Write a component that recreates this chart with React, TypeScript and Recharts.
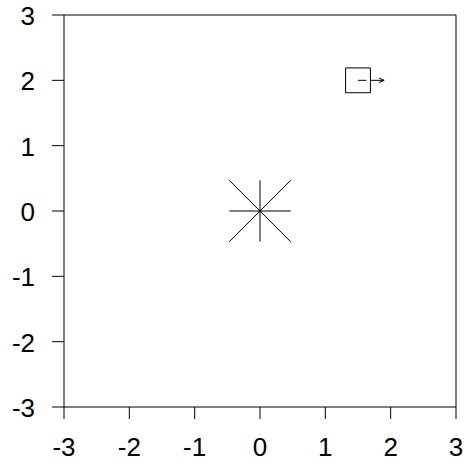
import { ScatterChart, Scatter, XAxis, YAxis, ReferenceArea, ReferenceLine } from 'recharts';

const axisTicks = [-3, -2, -1, 0, 1, 2, 3];
const axisDomain = [-3, 3];

// star glyph at the origin: four spokes through the centre
const starCenter = { x: 0, y: 0 };
const starSpokes = [
  [-0.47, 0, 0.47, 0],
  [0, -0.47, 0, 0.47],
  [-0.47, -0.47, 0.47, 0.47],
  [-0.47, 0.47, 0.47, -0.47],
];

// square glyph with a small arrow to the right
const squareCenter = { x: 1.5, y: 2 };
const squareHalf = 0.19;
const innerDash = [1.5, 1.63];
const arrowLine = [1.69, 1.9];
const arrowHead = [
  [1.82, 2.035],
  [1.82, 1.965],
];

const points = [starCenter, squareCenter];

const FONT = '"Liberation Sans", Arial, sans-serif';

const XTick = ({ x, y, payload }: any) => (
  <text x={x} y={y + 19} textAnchor="middle" fontFamily={FONT} fontSize={26} fill="#000">
    {payload.value}
  </text>
);

const YTick = ({ x, y, payload }: any) => (
  <text x={x} y={y + 10} textAnchor="end" fontFamily={FONT} fontSize={26} fill="#000">
    {payload.value}
  </text>
);

export default function App() {
  return (
    <div style={{ position: 'absolute', left: 0, top: 0, background: '#fff' }}>
      <ScatterChart width={464} height={463} margin={{ top: 15, right: 8, bottom: 0, left: 0 }}>
        <XAxis
          type="number"
          dataKey="x"
          domain={axisDomain}
          ticks={axisTicks}
          allowDataOverflow
          interval={0}
          axisLine={false}
          tickLine={{ stroke: '#000' }}
          tickSize={12}
          tickMargin={18}
          height={56}
          tick={<XTick />}
        />
        <YAxis
          type="number"
          dataKey="y"
          domain={axisDomain}
          ticks={axisTicks}
          allowDataOverflow
          interval={0}
          axisLine={false}
          tickLine={{ stroke: '#000' }}
          tickSize={12}
          tickMargin={17}
          width={64}
          tick={<YTick />}
        />
        <ReferenceArea x1={-3} x2={3} y1={-3} y2={3} fill="none" stroke="#000" strokeWidth={1} fillOpacity={0} />
        {starSpokes.map((s, i) => (
          <ReferenceLine
            key={`spoke-${i}`}
            segment={[
              { x: starCenter.x + s[0], y: starCenter.y + s[1] },
              { x: starCenter.x + s[2], y: starCenter.y + s[3] },
            ]}
            stroke="#000"
            strokeWidth={1}
          />
        ))}
        <ReferenceArea
          x1={squareCenter.x - squareHalf}
          x2={squareCenter.x + squareHalf}
          y1={squareCenter.y - squareHalf}
          y2={squareCenter.y + squareHalf}
          fill="none"
          fillOpacity={0}
          stroke="#000"
          strokeWidth={1}
        />
        <ReferenceLine
          segment={[
            { x: innerDash[0], y: squareCenter.y },
            { x: innerDash[1], y: squareCenter.y },
          ]}
          stroke="#000"
        />
        <ReferenceLine
          segment={[
            { x: arrowLine[0], y: squareCenter.y },
            { x: arrowLine[1], y: squareCenter.y },
          ]}
          stroke="#000"
        />
        {arrowHead.map((p, i) => (
          <ReferenceLine
            key={`head-${i}`}
            segment={[
              { x: p[0], y: p[1] },
              { x: arrowLine[1], y: squareCenter.y },
            ]}
            stroke="#000"
          />
        ))}
        <Scatter data={points} isAnimationActive={false} shape={() => <g />} />
      </ScatterChart>
    </div>
  );
}
